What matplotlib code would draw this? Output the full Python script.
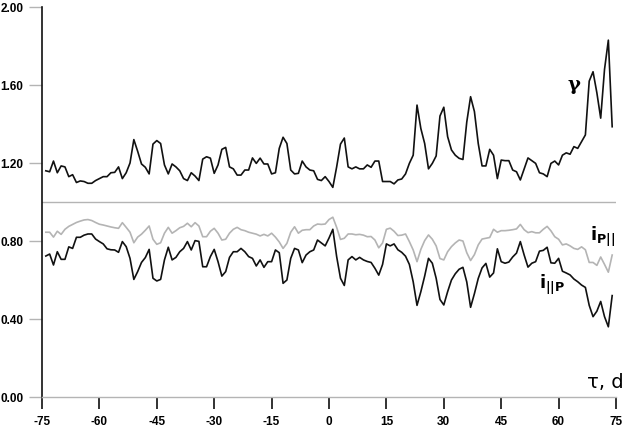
import matplotlib
matplotlib.use("Agg")
import matplotlib.pyplot as plt
import numpy as np

# days (tau, d)
days = np.arange(-74, 75)

gamma = [
    1.16, 1.155, 1.21, 1.15, 1.185, 1.18, 1.13, 1.14, 1.10, 1.108,
    1.105, 1.096, 1.096, 1.11, 1.12, 1.13, 1.13, 1.15, 1.152, 1.18,
    1.12, 1.15, 1.20, 1.32, 1.26, 1.195, 1.178, 1.144, 1.297, 1.315,
    1.30, 1.19, 1.144, 1.195, 1.18, 1.16, 1.12, 1.11, 1.15, 1.133,
    1.11, 1.22, 1.232, 1.225, 1.147, 1.19, 1.27, 1.28, 1.18, 1.17,
    1.138, 1.138, 1.164, 1.164, 1.226, 1.198, 1.225, 1.195, 1.195, 1.144,
    1.15, 1.275, 1.332, 1.30, 1.164, 1.144, 1.147, 1.21, 1.18, 1.164,
    1.16, 1.116, 1.11, 1.13, 1.105, 1.075, 1.18, 1.297, 1.328, 1.18,
    1.17, 1.18, 1.17, 1.17, 1.19, 1.178, 1.21, 1.21, 1.105, 1.105,
    1.105, 1.093, 1.113, 1.118, 1.144, 1.198, 1.24, 1.497, 1.377, 1.30,
    1.17, 1.198, 1.236, 1.441, 1.486, 1.335, 1.267, 1.24, 1.224, 1.218,
    1.41, 1.54, 1.464, 1.30, 1.185, 1.185, 1.27, 1.24, 1.12, 1.215,
    1.212, 1.212, 1.164, 1.155, 1.113, 1.17, 1.226, 1.212, 1.198, 1.15,
    1.144, 1.13, 1.198, 1.21, 1.19, 1.24, 1.252, 1.245, 1.284, 1.275,
    1.31, 1.344, 1.62, 1.668, 1.56, 1.43, 1.68, 1.83, 1.386,
]

i_par = [
    0.845, 0.845, 0.82, 0.85, 0.834, 0.86, 0.875, 0.885, 0.895, 0.902,
    0.908, 0.91, 0.905, 0.895, 0.886, 0.882, 0.877, 0.872, 0.868, 0.865,
    0.894, 0.87, 0.845, 0.791, 0.82, 0.835, 0.855, 0.877, 0.809, 0.783,
    0.791, 0.84, 0.87, 0.84, 0.853, 0.868, 0.875, 0.891, 0.873, 0.894,
    0.877, 0.822, 0.822, 0.85, 0.865, 0.84, 0.805, 0.809, 0.84, 0.86,
    0.87, 0.858, 0.853, 0.845, 0.84, 0.835, 0.826, 0.834, 0.826, 0.84,
    0.82, 0.795, 0.762, 0.788, 0.845, 0.873, 0.84, 0.855, 0.858, 0.858,
    0.877, 0.887, 0.885, 0.887, 0.91, 0.922, 0.87, 0.808, 0.814, 0.836,
    0.836, 0.832, 0.834, 0.83, 0.822, 0.823, 0.805, 0.765, 0.79, 0.86,
    0.866, 0.85, 0.828, 0.83, 0.836, 0.797, 0.754, 0.694, 0.757, 0.802,
    0.831, 0.809, 0.775, 0.71, 0.703, 0.745, 0.771, 0.79, 0.805, 0.80,
    0.74, 0.70, 0.73, 0.78, 0.81, 0.814, 0.818, 0.86, 0.845, 0.853,
    0.853, 0.855, 0.858, 0.862, 0.885, 0.858, 0.843, 0.848, 0.842, 0.842,
    0.86, 0.875, 0.852, 0.822, 0.809, 0.78, 0.785, 0.775, 0.762, 0.757,
    0.77, 0.755, 0.69, 0.69, 0.675, 0.718, 0.68, 0.64, 0.728,
]

i_perp = [
    0.723, 0.733, 0.677, 0.745, 0.706, 0.706, 0.77, 0.762, 0.819, 0.819,
    0.83, 0.836, 0.836, 0.81, 0.797, 0.785, 0.76, 0.755, 0.754, 0.742,
    0.797, 0.771, 0.711, 0.603, 0.643, 0.69, 0.715, 0.757, 0.609, 0.595,
    0.603, 0.703, 0.768, 0.703, 0.716, 0.745, 0.762, 0.797, 0.754, 0.802,
    0.798, 0.668, 0.668, 0.72, 0.757, 0.694, 0.62, 0.643, 0.716, 0.745,
    0.745, 0.762, 0.745, 0.72, 0.711, 0.672, 0.703, 0.665, 0.694, 0.694,
    0.754, 0.74, 0.583, 0.6, 0.711, 0.762, 0.754, 0.689, 0.728, 0.745,
    0.754, 0.805, 0.79, 0.775, 0.815, 0.86, 0.72, 0.609, 0.572, 0.703,
    0.72, 0.703, 0.716, 0.703, 0.695, 0.69, 0.66, 0.625, 0.68, 0.785,
    0.775, 0.785, 0.755, 0.742, 0.722, 0.68, 0.591, 0.47, 0.54, 0.62,
    0.711, 0.686, 0.609, 0.5, 0.472, 0.54, 0.6, 0.632, 0.655, 0.665,
    0.59, 0.46, 0.53, 0.608, 0.662, 0.685, 0.615, 0.636, 0.76, 0.694,
    0.686, 0.692, 0.718, 0.738, 0.797, 0.728, 0.666, 0.686, 0.694, 0.748,
    0.752, 0.768, 0.688, 0.686, 0.711, 0.645, 0.636, 0.626, 0.605, 0.591,
    0.574, 0.562, 0.47, 0.412, 0.44, 0.49, 0.412, 0.36, 0.52,
]

x_ticks = [-75, -60, -45, -30, -15, 0, 15, 30, 45, 60, 75]
y_ticks = [0.0, 0.4, 0.8, 1.2, 1.6, 2.0]

plt.rcParams['font.family'] = ['Liberation Sans', 'DejaVu Sans']

fig = plt.figure(figsize=(6.27, 4.28), dpi=100)
ax = fig.add_axes([42 / 627, 1 - 397 / 428, 574 / 627, 390 / 428])

grey = '#b4b4b4'
ax.axhline(1.0, color=grey, lw=1.0)
ax.plot(days, i_par, color=grey, lw=1.2)
ax.plot(days, i_perp, color='#111111', lw=1.2)
ax.plot(days, gamma, color='#111111', lw=1.2)

ax.set_xlim(-75, 75)
ax.set_ylim(0, 2.0)
ax.set_xticks(x_ticks)
ax.set_xticklabels([str(t) for t in x_ticks], fontweight='bold', fontsize=8.5)
ax.set_yticks(y_ticks)
ax.set_yticklabels(['%.2f' % t for t in y_ticks], fontweight='bold', fontsize=8.5)

ax.tick_params(axis='x', direction='out', length=8.5, width=1.3, color='#222222', pad=5)
ax.tick_params(axis='y', direction='out', length=9.5, width=1.0, color=grey, pad=4)

for s in ['top', 'right']:
    ax.spines[s].set_visible(False)
ax.spines['left'].set_color('#111111')
ax.spines['left'].set_linewidth(1.2)
ax.spines['bottom'].set_color(grey)
ax.spines['bottom'].set_linewidth(1.0)

ax.text(64.0, 1.60, '\u03b3', fontsize=14, family='DejaVu Serif', fontweight='bold',
        ha='center', va='center')
ax.text(68.2, 0.82, r'$\mathbf{i}_{\mathbf{P||}}$', fontsize=13, ha='left', va='center')
ax.text(54.9, 0.574, r'$\mathbf{i}_{\mathbf{||P}}$', fontsize=13, ha='left', va='center')
ax.text(67.4, 0.046, '\u03c4, d', fontsize=14, family='DejaVu Sans', ha='left', va='baseline',
        clip_on=False)

fig.savefig('out.png', dpi=100)
